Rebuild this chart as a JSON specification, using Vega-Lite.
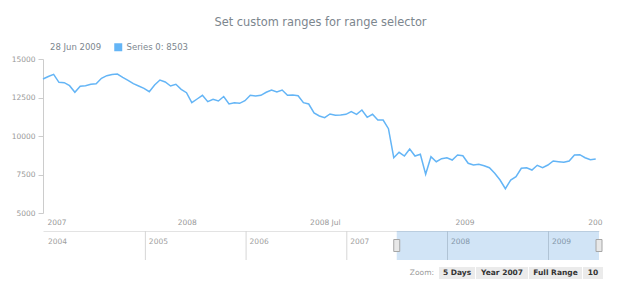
{
  "$schema": "https://vega.github.io/schema/vega-lite/v6.json",
  "padding": {"left": 11, "top": 16, "right": 0, "bottom": 0},
  "background": "white",
  "config": {"view": {"stroke": null}, "font": "DejaVu Sans"},
  "bounds": "flush",
  "spacing": 18,
  "vconcat": [
    {
      "title": {"text": "Set custom ranges for range selector", "anchor": "middle", "frame": "group", "fontSize": 11.4, "fontWeight": "normal", "color": "#7c868e", "font": "DejaVu Sans", "offset": 27},
      "width": 555,
      "height": 154,
      "data": {"values": [
        {"d": "2007-07-01", "v": 13701}, {"d": "2007-07-08", "v": 13864}, {"d": "2007-07-15", "v": 14006}, {"d": "2007-07-22", "v": 13487},
        {"d": "2007-07-29", "v": 13461}, {"d": "2007-08-05", "v": 13266}, {"d": "2007-08-12", "v": 12838}, {"d": "2007-08-19", "v": 13227},
        {"d": "2007-08-26", "v": 13266}, {"d": "2007-09-02", "v": 13357}, {"d": "2007-09-09", "v": 13396}, {"d": "2007-09-16", "v": 13747},
        {"d": "2007-09-23", "v": 13916}, {"d": "2007-09-30", "v": 13994}, {"d": "2007-10-07", "v": 14026}, {"d": "2007-10-14", "v": 13812},
        {"d": "2007-10-21", "v": 13617}, {"d": "2007-10-28", "v": 13396}, {"d": "2007-11-04", "v": 13247}, {"d": "2007-11-11", "v": 13097},
        {"d": "2007-11-18", "v": 12877}, {"d": "2007-11-25", "v": 13312}, {"d": "2007-12-02", "v": 13636}, {"d": "2007-12-09", "v": 13506},
        {"d": "2007-12-16", "v": 13247}, {"d": "2007-12-23", "v": 13357}, {"d": "2007-12-30", "v": 13032},
        {"d": "2008-01-06", "v": 12812}, {"d": "2008-01-13", "v": 12162}, {"d": "2008-01-20", "v": 12403}, {"d": "2008-01-27", "v": 12643},
        {"d": "2008-02-03", "v": 12227}, {"d": "2008-02-10", "v": 12383}, {"d": "2008-02-17", "v": 12273}, {"d": "2008-02-24", "v": 12565},
        {"d": "2008-03-02", "v": 12078}, {"d": "2008-03-09", "v": 12162}, {"d": "2008-03-16", "v": 12123}, {"d": "2008-03-23", "v": 12292},
        {"d": "2008-03-30", "v": 12643}, {"d": "2008-04-06", "v": 12597}, {"d": "2008-04-13", "v": 12643}, {"d": "2008-04-20", "v": 12838},
        {"d": "2008-04-27", "v": 12987}, {"d": "2008-05-04", "v": 12857}, {"d": "2008-05-11", "v": 12987}, {"d": "2008-05-18", "v": 12643},
        {"d": "2008-05-25", "v": 12662}, {"d": "2008-06-01", "v": 12617}, {"d": "2008-06-08", "v": 12162}, {"d": "2008-06-15", "v": 12078},
        {"d": "2008-06-22", "v": 11494}, {"d": "2008-06-29", "v": 11299}, {"d": "2008-07-06", "v": 11188}, {"d": "2008-07-13", "v": 11429},
        {"d": "2008-07-20", "v": 11344}, {"d": "2008-07-27", "v": 11364}, {"d": "2008-08-03", "v": 11409}, {"d": "2008-08-10", "v": 11578},
        {"d": "2008-08-17", "v": 11409}, {"d": "2008-08-24", "v": 11688}, {"d": "2008-08-31", "v": 11214}, {"d": "2008-09-07", "v": 11409},
        {"d": "2008-09-14", "v": 11039}, {"d": "2008-09-21", "v": 11039}, {"d": "2008-09-28", "v": 10474}, {"d": "2008-10-05", "v": 8591},
        {"d": "2008-10-12", "v": 8942}, {"d": "2008-10-19", "v": 8701}, {"d": "2008-10-26", "v": 9156}, {"d": "2008-11-02", "v": 8701},
        {"d": "2008-11-09", "v": 8812}, {"d": "2008-11-16", "v": 7513}, {"d": "2008-11-23", "v": 8656}, {"d": "2008-11-30", "v": 8331},
        {"d": "2008-12-07", "v": 8526}, {"d": "2008-12-14", "v": 8591}, {"d": "2008-12-21", "v": 8442}, {"d": "2008-12-28", "v": 8766},
        {"d": "2009-01-04", "v": 8721}, {"d": "2009-01-11", "v": 8227}, {"d": "2009-01-18", "v": 8117}, {"d": "2009-01-25", "v": 8162},
        {"d": "2009-02-01", "v": 8071}, {"d": "2009-02-08", "v": 7942}, {"d": "2009-02-15", "v": 7578}, {"d": "2009-02-22", "v": 7143},
        {"d": "2009-03-01", "v": 6578}, {"d": "2009-03-08", "v": 7143}, {"d": "2009-03-15", "v": 7357}, {"d": "2009-03-22", "v": 7903},
        {"d": "2009-03-29", "v": 7942}, {"d": "2009-04-05", "v": 7792}, {"d": "2009-04-12", "v": 8097}, {"d": "2009-04-19", "v": 7942},
        {"d": "2009-04-26", "v": 8117}, {"d": "2009-05-03", "v": 8377}, {"d": "2009-05-10", "v": 8331}, {"d": "2009-05-17", "v": 8292},
        {"d": "2009-05-24", "v": 8377}, {"d": "2009-05-31", "v": 8766}, {"d": "2009-06-07", "v": 8786}, {"d": "2009-06-14", "v": 8591},
        {"d": "2009-06-21", "v": 8461}, {"d": "2009-06-28", "v": 8503}
      ]},
      "mark": {"type": "line", "strokeWidth": 1.5},
      "encoding": {
        "x": {
          "field": "d", "type": "temporal",
          "scale": {"type": "utc", "domain": [{"year": 2007, "month": 7, "date": 1, "utc": true}, {"year": 2009, "month": 7, "date": 1, "utc": true}]},
          "axis": {
            "title": null, "grid": false, "domain": false, "ticks": false, "tickSize": 0,
            "values": [
              {"year": 2007, "month": 7, "date": 1, "utc": true},
              {"year": 2008, "month": 1, "date": 1, "utc": true},
              {"year": 2008, "month": 7, "date": 1, "utc": true},
              {"year": 2009, "month": 1, "date": 1, "utc": true},
              {"year": 2009, "month": 7, "date": 1, "utc": true}
            ],
            "labelExpr": "utcmonth(datum.value) == 6 ? (utcyear(datum.value) == 2008 ? '2008 Jul' : (utcyear(datum.value) == 2009 ? '200' : '2007')) : '' + utcyear(datum.value)",
            "labelFlush": true, "labelOffset": 4, "labelPadding": 5, "labelOverlap": false,
            "labelFontSize": 7.5, "labelColor": "#999999", "labelFont": "DejaVu Sans"
          }
        },
        "y": {
          "field": "v", "type": "quantitative",
          "scale": {"domain": [5000, 15000], "nice": false, "zero": false},
          "axis": {
            "title": null, "grid": false, "values": [5000, 7500, 10000, 12500, 15000], "format": "d",
            "labelFontSize": 7.5, "labelColor": "#999999", "labelPadding": 3, "labelFont": "DejaVu Sans",
            "tickSize": 5, "tickColor": "#cccccc", "domainColor": "#cccccc"
          }
        },
        "color": {
          "datum": "Series 0",
          "scale": {"range": ["#64b5f6"]},
          "legend": {
            "orient": "none", "legendX": 7, "legendY": -16,
            "title": "28 Jun 2009", "titleOrient": "left", "titleFontSize": 8.5, "titleFontWeight": "normal",
            "titleColor": "#7c868e", "titlePadding": 12, "titleFont": "DejaVu Sans",
            "symbolType": "square", "symbolSize": 64, "symbolFillColor": "#64b5f6", "symbolStrokeWidth": 0,
            "labelFontSize": 8.5, "labelColor": "#7c868e", "labelOffset": 4, "labelFont": "DejaVu Sans",
            "labelExpr": "datum.label + ': 8503'",
            "encode": {"symbols": {"update": {"fill": {"value": "#64b5f6"}, "stroke": {"value": "#64b5f6"}, "strokeWidth": {"value": 0}}}}
          }
        }
      }
    },
    {
      "bounds": "flush",
      "spacing": 7,
      "vconcat": [
        {
          "width": 556,
          "height": 29,
          "layer": [
            {
              "data": {"values": [{"y": "2005-01-01"}, {"y": "2006-01-01"}, {"y": "2007-01-01"}, {"y": "2008-01-01"}, {"y": "2009-01-01"}]},
              "mark": {"type": "rule", "color": "#d6d6d6", "strokeWidth": 1},
              "encoding": {
                "x": {
                  "field": "y", "type": "temporal",
                  "scale": {"type": "utc", "domain": [{"year": 2003, "month": 12, "date": 27, "utc": true}, {"year": 2009, "month": 7, "date": 3, "utc": true}]},
                  "axis": {
                    "orient": "top", "title": null, "grid": false, "ticks": false, "tickSize": 0,
                    "values": [
                      {"year": 2004, "month": 1, "date": 1, "utc": true},
                      {"year": 2005, "month": 1, "date": 1, "utc": true},
                      {"year": 2006, "month": 1, "date": 1, "utc": true},
                      {"year": 2007, "month": 1, "date": 1, "utc": true},
                      {"year": 2008, "month": 1, "date": 1, "utc": true},
                      {"year": 2009, "month": 1, "date": 1, "utc": true}
                    ],
                    "format": "%Y", "labelAlign": "left", "labelBaseline": "top", "labelOffset": 3, "labelPadding": -6,
                    "labelOverlap": false, "labelFlush": false, "labelFontSize": 7.5, "labelColor": "#a0a0a0",
                    "labelFont": "DejaVu Sans", "domainColor": "#e3e3e3"
                  }
                }
              }
            },
            {
              "data": {"values": [{"from": "2007-07-01", "to": "2009-07-03"}]},
              "mark": {"type": "rect", "color": "#1976d2", "opacity": 0.2},
              "encoding": {
                "x": {"field": "from", "type": "temporal"},
                "x2": {"field": "to"}
              }
            },
            {
              "data": {"values": [{"h": "2007-07-01"}, {"h": "2009-07-03"}]},
              "mark": {"type": "point", "shape": "M-0.5,-1H0.5V1H-0.5Z", "size": 144, "filled": true, "fill": "#e8e8e8", "stroke": "#a6a6a6", "strokeWidth": 1, "opacity": 1},
              "encoding": {"x": {"field": "h", "type": "temporal"}}
            }
          ]
        },
        {
          "bounds": "flush",
          "spacing": 1,
          "hconcat": [
            {
              "width": 395, "height": 12,
              "data": {"values": [{"t": "Zoom:"}]},
              "mark": {"type": "text", "align": "right", "baseline": "middle", "fontSize": 7.5, "color": "#9a9a9a", "dx": -4, "font": "DejaVu Sans"},
              "encoding": {"text": {"field": "t"}, "x": {"value": "width"}}
            },
            {
              "width": 36, "height": 12, "view": {"fill": "#ebebeb", "stroke": null},
              "data": {"values": [{"t": "5 Days"}]},
              "mark": {"type": "text", "baseline": "middle", "fontSize": 7.5, "fontWeight": "bold", "color": "#333333", "font": "DejaVu Sans"},
              "encoding": {"text": {"field": "t"}}
            },
            {
              "width": 52, "height": 12, "view": {"fill": "#ebebeb", "stroke": null},
              "data": {"values": [{"t": "Year 2007"}]},
              "mark": {"type": "text", "baseline": "middle", "fontSize": 7.5, "fontWeight": "bold", "color": "#333333", "font": "DejaVu Sans"},
              "encoding": {"text": {"field": "t"}}
            },
            {
              "width": 53, "height": 12, "view": {"fill": "#ebebeb", "stroke": null},
              "data": {"values": [{"t": "Full Range"}]},
              "mark": {"type": "text", "baseline": "middle", "fontSize": 7.5, "fontWeight": "bold", "color": "#333333", "font": "DejaVu Sans"},
              "encoding": {"text": {"field": "t"}}
            },
            {
              "width": 20, "height": 12, "view": {"fill": "#ebebeb", "stroke": null},
              "data": {"values": [{"t": "10"}]},
              "mark": {"type": "text", "baseline": "middle", "fontSize": 7.5, "fontWeight": "bold", "color": "#333333", "font": "DejaVu Sans"},
              "encoding": {"text": {"field": "t"}}
            }
          ]
        }
      ]
    }
  ]
}
